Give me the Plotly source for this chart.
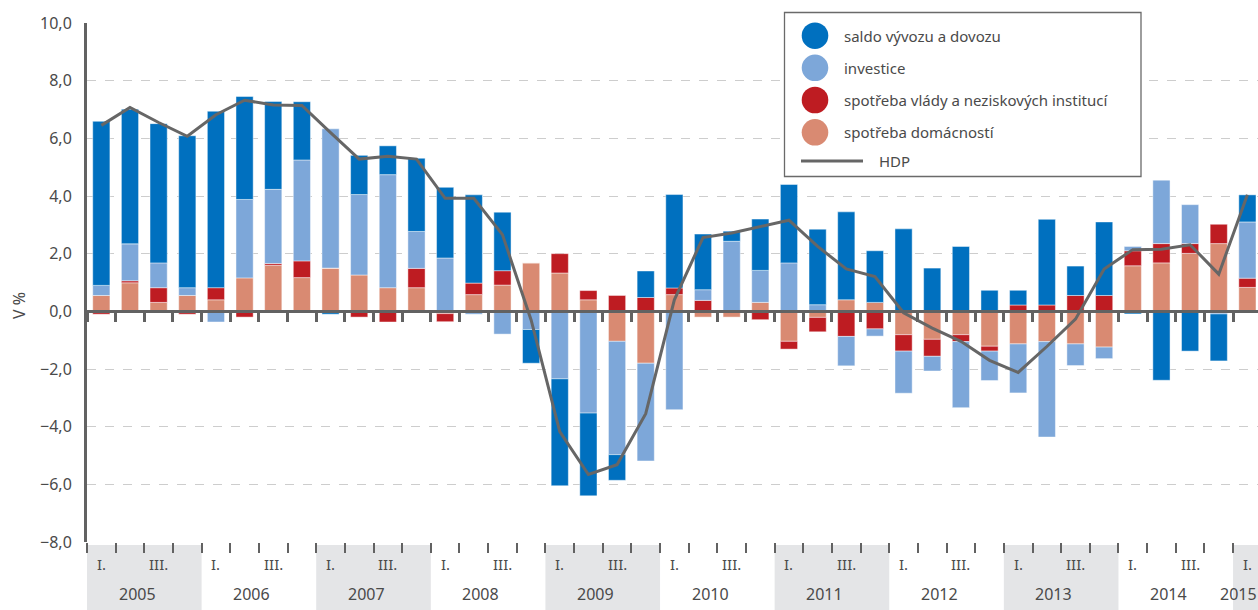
import plotly.graph_objects as go

# ---------------- data (contributions to GDP growth, %) ----------------
years = [2005, 2006, 2007, 2008, 2009, 2010, 2011, 2012, 2013, 2014, 2015]
quarter_marks = ["I.", "", "III.", ""]
shaded_years = [2005, 2007, 2009, 2011, 2013, 2015]

domacnosti = [0.55, 0.99, 0.31, 0.55, 0.40, 1.16, 1.60, 1.17, 1.50, 1.26, 0.82,
              0.82, -0.08, 0.58, 0.91, 1.68, 1.33, 0.40, -1.04, -1.80, 0.58,
              -0.20, -0.20, 0.31, -1.04, -0.21, 0.40, 0.31, -0.81, -0.97, -0.81,
              -1.21, -1.13, -1.05, -1.13, -1.24, 1.58, 1.68, 2.01, 2.35, 0.83]
vlady = [-0.10, 0.07, 0.51, -0.10, 0.42, -0.20, 0.06, 0.58, 0.00, -0.20, -0.37,
         0.67, -0.28, 0.40, 0.50, 0.00, 0.67, 0.32, 0.55, 0.48, 0.23,
         0.38, 0.00, -0.29, -0.27, -0.50, -0.87, -0.61, -0.57, -0.59, -0.24,
         -0.17, 0.22, 0.22, 0.55, 0.55, 0.52, 0.67, 0.34, 0.67, 0.32]
investice = [0.35, 1.28, 0.86, 0.27, -0.37, 2.72, 2.57, 3.50, 4.83, 2.79, 3.92,
             1.28, 1.85, -0.10, -0.79, -0.63, -2.34, -3.53, -3.93, -3.39, -3.41,
             0.37, 2.43, 1.11, 1.68, 0.23, -1.02, -0.25, -1.46, -0.51, -2.29,
             -1.02, -1.70, -3.31, -0.75, -0.40, 0.15, 2.20, 1.35, -0.09, 1.95]
saldo = [5.69, 4.67, 4.83, 5.27, 6.12, 3.57, 3.05, 2.02, -0.10, 1.36, 1.00,
         2.54, 2.45, 3.06, 2.03, -1.17, -3.71, -2.87, -0.89, 0.92, 3.24,
         1.93, 0.35, 1.78, 2.72, 2.62, 3.05, 1.79, 2.86, 1.50, 2.25,
         0.73, 0.51, 2.97, 1.02, 2.55, -0.09, -2.39, -1.38, -1.63, 0.94]
hdp = [6.45, 7.07, 6.55, 6.07, 6.82, 7.32, 7.16, 7.14, 6.20, 5.28, 5.38,
       5.28, 3.92, 3.92, 2.66, -0.30, -4.17, -5.66, -5.32, -3.55, 0.40,
       2.56, 2.72, 2.95, 3.16, 2.25, 1.47, 1.21, -0.05, -0.58, -1.04,
       -1.70, -2.12, -1.22, -0.27, 1.47, 2.14, 2.15, 2.31, 1.29, 4.04]

series = [
    ("spotřeba domácností", domacnosti, "#D98A72"),
    ("spotřeba vlády a neziskových institucí", vlady, "#BE1C22"),
    ("investice", investice, "#7DA7D9"),
    ("saldo vývozu a dovozu", saldo, "#0070BF"),
]
legend_order = [3, 2, 1, 0]

n = len(hdp)
x = list(range(n))

# ---------------- geometry ----------------
W, H = 1258, 610
ML, MR, MT, MB = 87, 0, 23, 68
PW, PH = W - ML - MR, H - MT - MB
X0, X1 = -0.5, 40.37
Y0, Y1 = -8, 10
TXT = "#4a4a4a"
AX = "#626262"
FONT = "Noto Sans, Open Sans, DejaVu Sans, sans-serif"


def xp(v):
    return (v - X0) / (X1 - X0)


def pxx(px):
    return (px - ML) / PW


def pxy(py):
    return (H - MB - py) / PH


fig = go.Figure()
for name, vals, col in series:
    fig.add_trace(go.Bar(x=x, y=vals, name=name, width=0.6,
                         marker=dict(color=col, line=dict(color="rgba(255,255,255,0.45)", width=1)),
                         showlegend=False))
fig.add_trace(go.Scatter(x=x, y=hdp, name="HDP", mode="lines",
                         line=dict(color="#666666", width=3), showlegend=False,
                         xaxis="x2"))

boundaries = [k + 0.5 for k in range(-1, n)]

shapes = []
annotations = []

# shaded year bands + labels
for i, yr in enumerate(years):
    start = i * 4
    a = max(start - 0.5, X0)
    b = min(start + 3.5, X1)
    if yr in shaded_years:
        shapes.append(dict(type="rect", xref="paper", yref="paper",
                           x0=xp(a), x1=xp(b), y0=pxy(545), y1=pxy(612),
                           fillcolor="#E4E5E7", line=dict(width=0), layer="below"))
    annotations.append(dict(text=str(yr), xref="paper", yref="paper",
                            x=xp((a + b) / 2 - 0.25), y=pxy(594), showarrow=False,
                            xanchor="center", yanchor="middle",
                            font=dict(family=FONT, size=16, color=TXT)))
    for q in range(4):
        idx = start + q
        if idx < n and quarter_marks[q]:
            annotations.append(dict(text=quarter_marks[q], xref="paper", yref="paper",
                                    x=xp(idx), y=pxy(564), showarrow=False,
                                    xanchor="center", yanchor="middle",
                                    font=dict(family=FONT, size=15, color=TXT)))

# y-axis title
annotations.append(dict(text="V %", xref="paper", yref="paper", x=pxx(19), y=pxy(306),
                        textangle=-90, showarrow=False, xanchor="center", yanchor="middle",
                        font=dict(family=FONT, size=16, color=TXT)))

# manual legend
shapes.append(dict(type="rect", xref="paper", yref="paper",
                   x0=pxx(784.5), x1=pxx(1141), y0=pxy(12.5), y1=pxy(176.5),
                   fillcolor="white", line=dict(color="#6a6a6a", width=1.3), layer="above"))
leg_y = [35.7, 67.8, 100.0, 132.3]
for k, si in enumerate(legend_order):
    name, _, col = series[si]
    shapes.append(dict(type="circle", xref="paper", yref="paper",
                       xsizemode="pixel", ysizemode="pixel",
                       xanchor=pxx(815), yanchor=pxy(leg_y[k]),
                       x0=-13.3, x1=13.3, y0=-13.3, y1=13.3,
                       fillcolor=col, line=dict(width=0), layer="above"))
    annotations.append(dict(text=name, xref="paper", yref="paper", x=pxx(842), y=pxy(leg_y[k]),
                            showarrow=False, xanchor="left", yanchor="middle",
                            font=dict(family=FONT, size=15, color=TXT)))
shapes.append(dict(type="line", xref="paper", yref="paper",
                   x0=pxx(801), x1=pxx(863), y0=pxy(161), y1=pxy(161),
                   line=dict(color="#666666", width=3), layer="above"))
annotations.append(dict(text="HDP", xref="paper", yref="paper", x=pxx(877), y=pxy(161),
                        showarrow=False, xanchor="left", yanchor="middle",
                        font=dict(family=FONT, size=15, color=TXT)))

fig.update_layout(
    width=W, height=H,
    margin=dict(l=ML, r=MR, t=MT, b=MB, pad=0),
    barmode="relative",
    bargap=0.4,
    plot_bgcolor="white", paper_bgcolor="white",
    separators=", ",
    font=dict(family=FONT, size=15, color=TXT),
    xaxis=dict(range=[X0, X1], tickmode="array", tickvals=boundaries, ticks="outside",
               ticklen=10, tickwidth=2, tickcolor=AX, showticklabels=False,
               showgrid=False, zeroline=False, showline=False, fixedrange=True),
    xaxis2=dict(range=[X0, X1], overlaying="x", anchor="free", position=(0 - Y0) / (Y1 - Y0),
                side="bottom", tickmode="array", tickvals=boundaries, ticks="outside",
                ticklen=9, tickwidth=2.5, tickcolor=AX, showticklabels=False,
                showgrid=False, zeroline=False, showline=True, linecolor=AX, linewidth=3),
    yaxis=dict(range=[Y0, Y1], tickmode="linear", tick0=-8, dtick=2, tickformat=".1f",
               showgrid=True, gridcolor="#cdcdcd", griddash="dash", gridwidth=1,
               zeroline=False, showline=True, linecolor=AX, linewidth=3,
               ticks="", ticklabelstandoff=9,
               tickfont=dict(family=FONT, size=16, color=TXT)),
    shapes=shapes,
    annotations=annotations,
)

fig.write_html("out.html", include_plotlyjs=True, config={"displayModeBar": False},
               post_script="document.body.style.margin='0';document.body.style.overflow='hidden';")
